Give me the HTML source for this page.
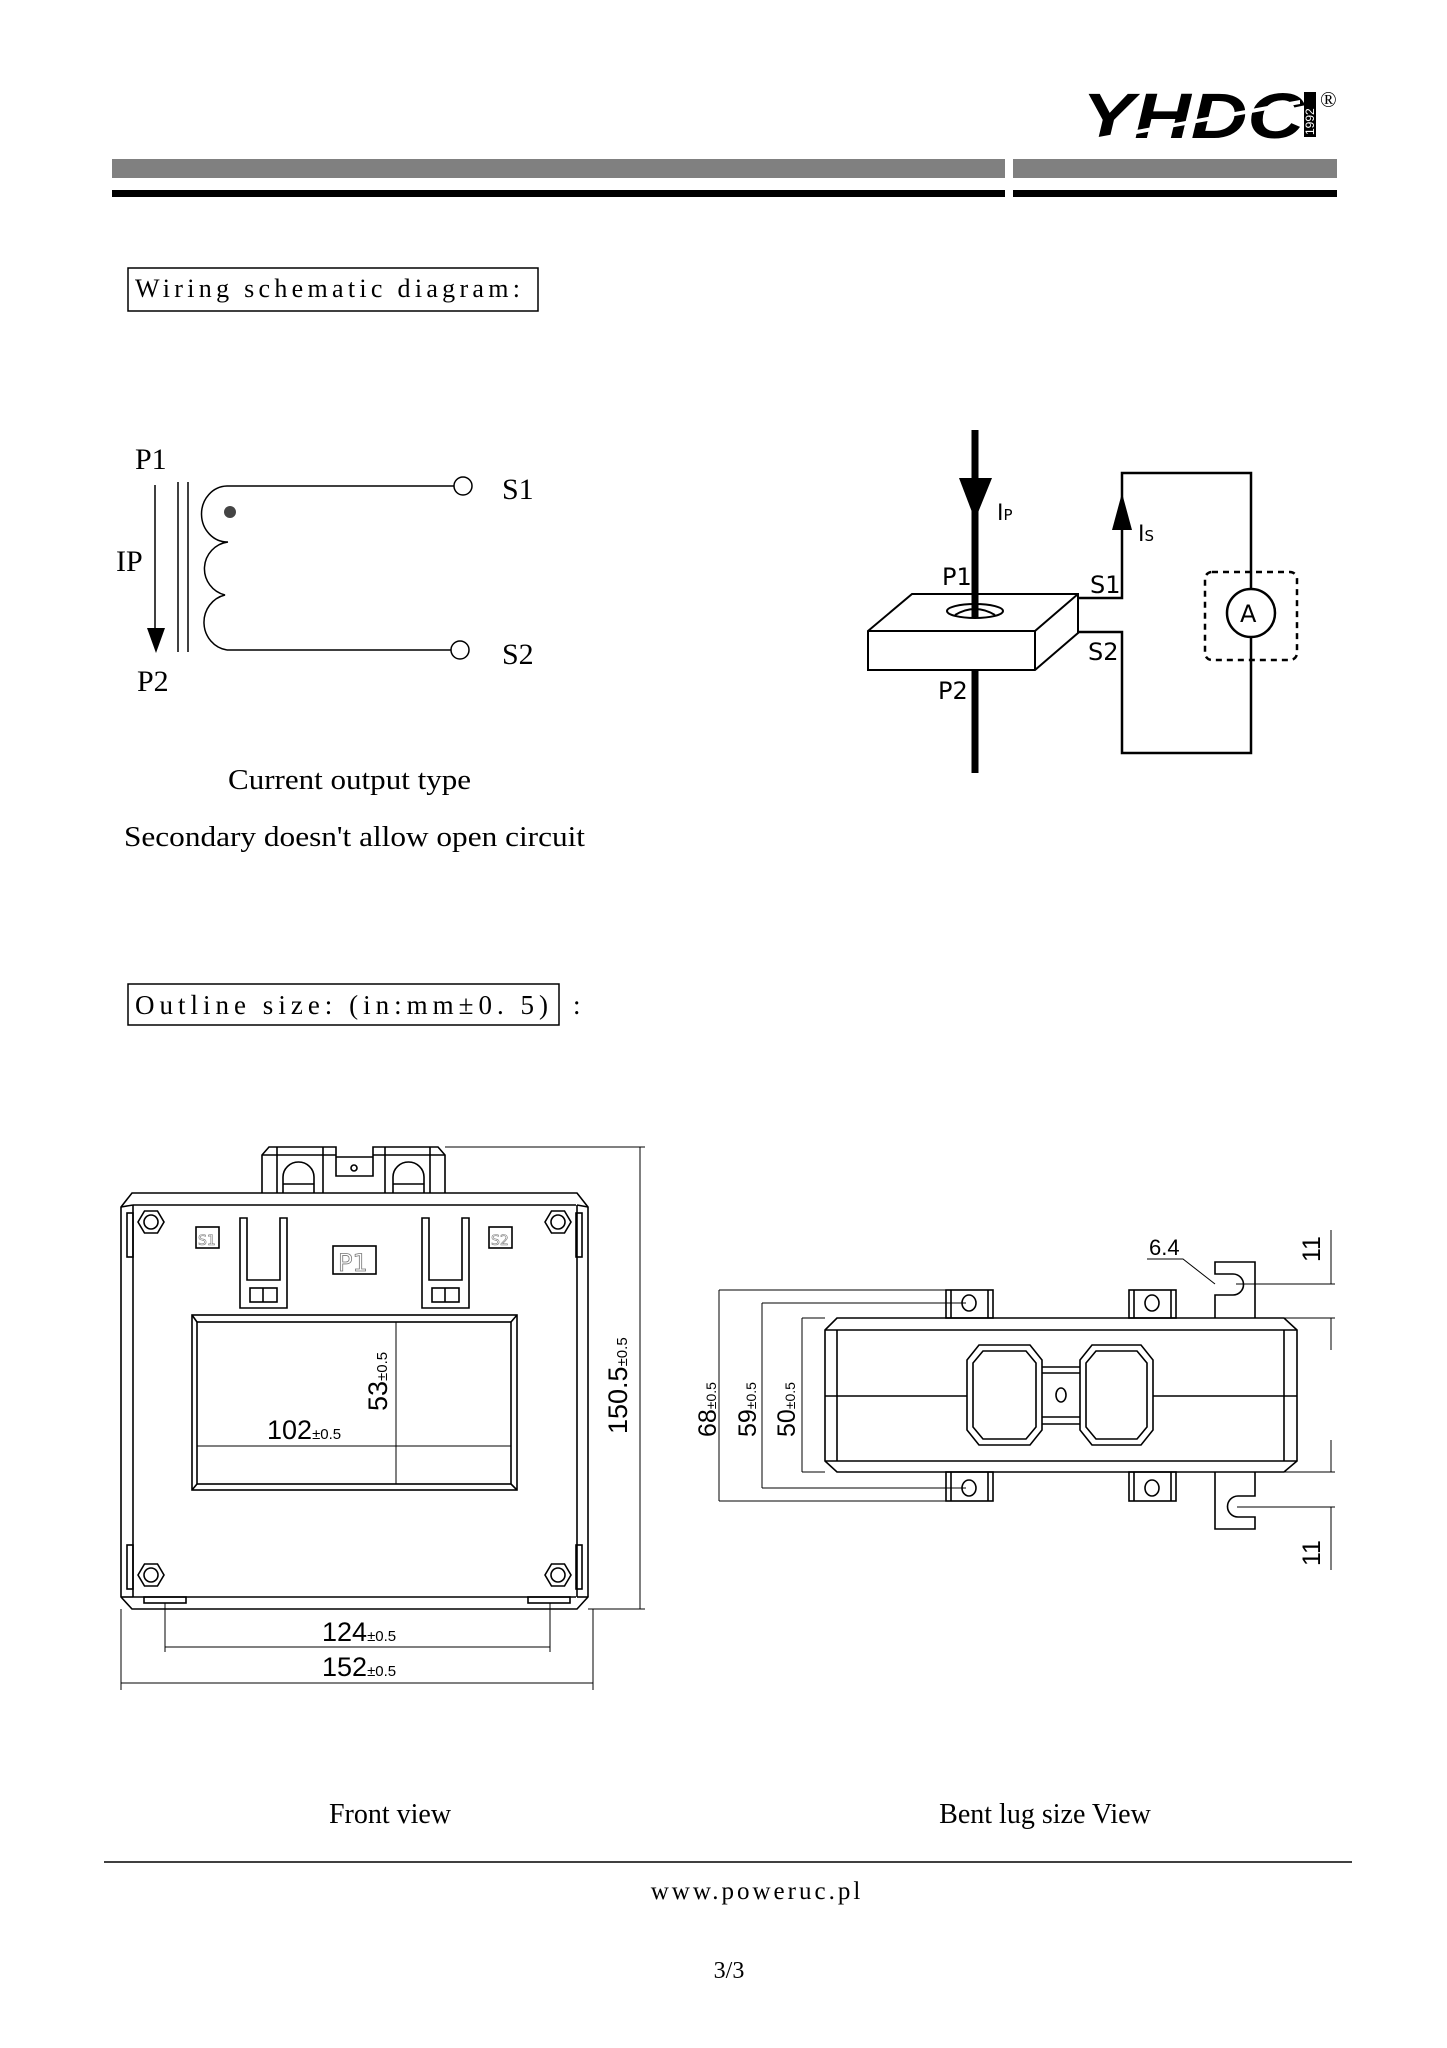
<!DOCTYPE html>
<html><head><meta charset="utf-8"><style>
html,body{margin:0;padding:0;background:#fff;}
svg{display:block;}
.s{font-family:"Liberation Serif","Noto Serif CJK SC",serif;}
.a{font-family:"DejaVu Sans","Liberation Sans",sans-serif;}
.l{font-family:"Liberation Sans",sans-serif;}
</style></head><body>
<svg width="1447" height="2048" viewBox="0 0 1447 2048" xmlns="http://www.w3.org/2000/svg">
<rect width="1447" height="2048" fill="#fff"/>
<!-- logo -->
<text x="1082" y="138" class="l" font-size="64" font-weight="bold" font-style="italic" textLength="222" lengthAdjust="spacingAndGlyphs">YHDC</text>
<polygon points="1082,140 1300,100 1300,104 1082,144" fill="#fff"/>
<rect x="1304" y="92" width="12" height="45" fill="#000"/>
<text transform="translate(1314,135) rotate(-90)" class="l" font-size="12" fill="#fff">1992</text>
<text x="1320" y="107" class="s" font-size="22">®</text>
<!-- header bars -->
<rect x="112" y="159" width="893" height="19" fill="#808080"/>
<rect x="1013" y="159" width="324" height="19" fill="#808080"/>
<rect x="112" y="190" width="893" height="7" fill="#000"/>
<rect x="1013" y="190" width="324" height="7" fill="#000"/>
<!-- wiring heading -->
<rect x="128" y="268" width="410" height="43" fill="none" stroke="#000" stroke-width="1.5"/>
<text x="135" y="297" class="s" font-size="26" textLength="385" lengthAdjust="spacing">Wiring schematic diagram:</text>
<!-- left schematic -->
<g class="s" font-size="30">
<text x="135" y="469">P1</text>
<text x="116" y="571">IP</text>
<text x="137" y="691">P2</text>
<text x="502" y="499">S1</text>
<text x="502" y="664">S2</text>
</g>
<g stroke="#000" stroke-width="1.5" fill="none">
<line x1="155" y1="485" x2="155" y2="630"/>
<line x1="178" y1="482" x2="178" y2="652"/>
<line x1="188" y1="482" x2="188" y2="652"/>
<line x1="227" y1="486" x2="454" y2="486"/>
<line x1="227" y1="650" x2="451" y2="650"/>
<path d="M227,486 A26,28 0 0 0 228,542 A27,27 0 0 0 225,595 A27,28 0 0 0 227,650"/>
<circle cx="463" cy="486" r="9"/>
<circle cx="460" cy="650" r="9"/>
</g>
<polygon points="147,628 165,628 156,653" fill="#000"/>
<circle cx="230" cy="512" r="6" fill="#444"/>
<text x="228" y="789" class="s" font-size="28" textLength="243" lengthAdjust="spacingAndGlyphs">Current output type</text>
<text x="124" y="846" class="s" font-size="29" textLength="461" lengthAdjust="spacingAndGlyphs">Secondary doesn't allow open circuit</text>
<!-- right schematic -->
<line x1="975" y1="430" x2="975" y2="773" stroke="#000" stroke-width="7"/>
<polygon points="959,478 992,478 975,520" fill="#000"/>
<g stroke="#000" stroke-width="2" fill="#fff">
<polygon points="868,631 912,594 1078,594 1078,633 1035,670 868,670"/>
<polyline points="868,631 1035,631 1078,594" fill="none"/>
<line x1="1035" y1="631" x2="1035" y2="670"/>
<ellipse cx="975" cy="611" rx="28" ry="7"/>
</g>
<path d="M955,615 Q975,603 995,615" stroke="#000" stroke-width="2" fill="none"/>
<line x1="975" y1="594" x2="975" y2="617" stroke="#000" stroke-width="7"/>
<g stroke="#000" stroke-width="2.5" fill="none">
<polyline points="1078,598 1122,598 1122,473 1251,473 1251,589"/>
<polyline points="1078,632 1122,632 1122,753 1251,753 1251,637"/>
<circle cx="1251" cy="613" r="24" fill="#fff"/>
<rect x="1205" y="572" width="92" height="88" rx="7" stroke-dasharray="6,5"/>
</g>
<polygon points="1122,493 1112,530 1132,530" fill="#000"/>
<g class="a" font-size="24">
<text x="942" y="585">P1</text>
<text x="938" y="699">P2</text>
<text x="1090" y="593">S1</text>
<text x="1088" y="660">S2</text>
<text x="1240" y="622" font-size="24">A</text>
<text x="997" y="520" font-size="22">I<tspan font-size="15">P</tspan></text>
<text x="1138" y="541" font-size="22">I<tspan font-size="15">S</tspan></text>
</g>
<!-- outline heading -->
<rect x="128" y="984" width="431" height="41" fill="none" stroke="#000" stroke-width="1.5"/>
<text x="135" y="1014" class="s" font-size="27" textLength="413" lengthAdjust="spacing">Outline size:  (in:mm±0. 5)</text>
<text x="573" y="1014" class="s" font-size="27">:</text>
<!-- front view -->
<g stroke="#000" stroke-width="1.6" fill="none">
<path d="M262,1193 L262,1155 L269,1147 L336,1147 L336,1176 L373,1176 L373,1147 L438,1147 L445,1155 L445,1193"/>
<line x1="262" y1="1155" x2="336" y2="1155"/><line x1="373" y1="1155" x2="445" y2="1155"/>
<line x1="277" y1="1147" x2="277" y2="1193"/><line x1="323" y1="1147" x2="323" y2="1193"/>
<line x1="385" y1="1147" x2="385" y2="1193"/><line x1="430" y1="1147" x2="430" y2="1193"/>
<line x1="336" y1="1157" x2="373" y2="1157"/>
<path d="M283,1193 L283,1177 A15.5,15 0 0 1 314,1177 L314,1193"/><line x1="283" y1="1184" x2="314" y2="1184"/>
<path d="M393,1193 L393,1177 A15.5,15 0 0 1 424,1177 L424,1193"/><line x1="393" y1="1184" x2="424" y2="1184"/>
<circle cx="354" cy="1168" r="3"/>
<path d="M132,1193 L577,1193 L588,1207 L588,1597 L577,1609 L132,1609 L121,1597 L121,1207 Z"/>
<line x1="133" y1="1205" x2="576" y2="1205"/>
<line x1="133" y1="1597" x2="576" y2="1597"/>
<line x1="133" y1="1205" x2="133" y2="1597"/>
<line x1="577" y1="1205" x2="577" y2="1597"/>
<line x1="121" y1="1207" x2="133" y2="1205"/><line x1="588" y1="1207" x2="577" y2="1205"/>
<line x1="121" y1="1597" x2="133" y2="1597"/><line x1="588" y1="1597" x2="577" y2="1597"/>
<rect x="127" y="1213" width="6" height="44"/><rect x="576" y="1213" width="6" height="44"/>
<rect x="127" y="1545" width="6" height="44"/><rect x="576" y="1545" width="6" height="44"/>
<rect x="144" y="1597" width="42" height="6"/><rect x="528" y="1597" width="42" height="6"/>
<polygon points="138,1222 144.5,1211 157.5,1211 164,1222 157.5,1233 144.5,1233"/><circle cx="151" cy="1222" r="7"/>
<polygon points="545,1222 551.5,1211 564.5,1211 571,1222 564.5,1233 551.5,1233"/><circle cx="558" cy="1222" r="7"/>
<polygon points="138,1575 144.5,1564 157.5,1564 164,1575 157.5,1586 144.5,1586"/><circle cx="151" cy="1575" r="7"/>
<polygon points="545,1575 551.5,1564 564.5,1564 571,1575 564.5,1586 551.5,1586"/><circle cx="558" cy="1575" r="7"/>
<path d="M240,1218 L247,1218 L247,1280 L280,1280 L280,1218 L287,1218 L287,1308 L240,1308 Z"/>
<rect x="250" y="1288" width="27" height="14"/><line x1="263" y1="1288" x2="263" y2="1302"/>
<path d="M422,1218 L429,1218 L429,1280 L462,1280 L462,1218 L469,1218 L469,1308 L422,1308 Z"/>
<rect x="432" y="1288" width="27" height="14"/><line x1="445" y1="1288" x2="445" y2="1302"/>
<rect x="196" y="1227" width="23" height="21"/><rect x="489" y="1227" width="23" height="21"/>
<rect x="333" y="1246" width="43" height="28"/>
<rect x="192" y="1315" width="325" height="175"/>
<rect x="197" y="1322" width="314" height="162"/>
<line x1="192" y1="1315" x2="197" y2="1322"/><line x1="517" y1="1315" x2="511" y2="1322"/>
<line x1="192" y1="1490" x2="197" y2="1484"/><line x1="517" y1="1490" x2="511" y2="1484"/>
</g>
<g fill="none" stroke="#555" stroke-width="1.1" class="a" font-size="14">
<text x="198" y="1245" stroke="#777" stroke-width="0.6" fill="#fff">S1</text>
<text x="491" y="1245" stroke="#777" stroke-width="0.6" fill="#fff">S2</text>
<text x="338" y="1271" font-size="24" stroke="#777" stroke-width="0.8" fill="#fff">P1</text>
</g>
<g stroke="#000" stroke-width="1" fill="none">
<line x1="445" y1="1147" x2="645" y2="1147"/>
<line x1="588" y1="1609" x2="645" y2="1609"/>
<line x1="640" y1="1147" x2="640" y2="1609"/>
<line x1="396" y1="1322" x2="396" y2="1484"/>
<line x1="197" y1="1446" x2="511" y2="1446"/>
<line x1="165" y1="1603" x2="165" y2="1652"/><line x1="550" y1="1603" x2="550" y2="1652"/>
<line x1="165" y1="1647" x2="550" y2="1647"/>
<line x1="121" y1="1609" x2="121" y2="1690"/><line x1="593" y1="1609" x2="593" y2="1690"/>
<line x1="121" y1="1683" x2="593" y2="1683"/>
</g>
<g class="l" fill="#000">
<text x="267" y="1439" font-size="27">102<tspan font-size="15">±0.5</tspan></text>
<text x="322" y="1641" font-size="27">124<tspan font-size="15">±0.5</tspan></text>
<text x="322" y="1676" font-size="27">152<tspan font-size="15">±0.5</tspan></text>
<text transform="translate(387,1411) rotate(-90)" font-size="27">53<tspan font-size="15">±0.5</tspan></text>
<text transform="translate(627,1434) rotate(-90)" font-size="27">150.5<tspan font-size="15">±0.5</tspan></text>
</g>
<!-- bent lug view -->
<g stroke="#000" stroke-width="1.6" fill="none">
<path d="M837,1318 L1284,1318 L1297,1330 L1297,1461 L1284,1472 L837,1472 L825,1461 L825,1330 Z"/>
<line x1="825" y1="1330" x2="1297" y2="1330"/><line x1="825" y1="1461" x2="1297" y2="1461"/>
<line x1="837" y1="1330" x2="837" y2="1461"/><line x1="1284" y1="1330" x2="1284" y2="1461"/>
<line x1="825" y1="1396" x2="967" y2="1396"/><line x1="1153" y1="1396" x2="1297" y2="1396"/>
<polygon points="979,1345 1030,1345 1042,1360 1042,1430 1030,1445 979,1445 967,1430 967,1360"/>
<polygon points="983,1351 1026,1351 1036,1363 1036,1427 1026,1439 983,1439 973,1427 973,1363"/>
<polygon points="1092,1345 1141,1345 1153,1360 1153,1430 1141,1445 1092,1445 1080,1430 1080,1360"/>
<polygon points="1096,1351 1137,1351 1147,1363 1147,1427 1137,1439 1096,1439 1086,1427 1086,1363"/>
<line x1="1042" y1="1367" x2="1080" y2="1367"/><line x1="1042" y1="1373" x2="1080" y2="1373"/>
<line x1="1042" y1="1417" x2="1080" y2="1417"/><line x1="1042" y1="1424" x2="1080" y2="1424"/>
<ellipse cx="1061" cy="1395" rx="5" ry="7"/>
<rect x="946" y="1290" width="47" height="28"/><line x1="951" y1="1290" x2="951" y2="1318"/><line x1="988" y1="1290" x2="988" y2="1318"/><ellipse cx="969" cy="1303" rx="7" ry="8"/>
<rect x="1129" y="1290" width="47" height="28"/><line x1="1134" y1="1290" x2="1134" y2="1318"/><line x1="1171" y1="1290" x2="1171" y2="1318"/><ellipse cx="1152" cy="1303" rx="7" ry="8"/>
<rect x="946" y="1472" width="47" height="29"/><line x1="951" y1="1472" x2="951" y2="1501"/><line x1="988" y1="1472" x2="988" y2="1501"/><ellipse cx="969" cy="1488" rx="7" ry="8"/>
<rect x="1129" y="1472" width="47" height="29"/><line x1="1134" y1="1472" x2="1134" y2="1501"/><line x1="1171" y1="1472" x2="1171" y2="1501"/><ellipse cx="1152" cy="1488" rx="7" ry="8"/>
<path d="M1215,1318 L1215,1295 L1233,1295 A10.5,10.5 0 0 0 1233,1274 L1215,1274 L1215,1262 L1255,1262 L1255,1318"/>
<path d="M1215,1472 L1215,1529 L1255,1529 L1255,1517 L1238,1517 A10.5,10.5 0 0 1 1238,1496 L1255,1496 L1255,1472"/>
</g>
<g stroke="#000" stroke-width="1" fill="none">
<line x1="719" y1="1290" x2="946" y2="1290"/><line x1="719" y1="1501" x2="946" y2="1501"/>
<line x1="719" y1="1290" x2="719" y2="1501"/>
<line x1="762" y1="1303" x2="966" y2="1303"/><line x1="762" y1="1488" x2="966" y2="1488"/>
<line x1="762" y1="1303" x2="762" y2="1488"/>
<line x1="802" y1="1318" x2="825" y2="1318"/><line x1="802" y1="1472" x2="825" y2="1472"/>
<line x1="802" y1="1318" x2="802" y2="1472"/>
<line x1="1331" y1="1230" x2="1331" y2="1284"/><line x1="1331" y1="1318" x2="1331" y2="1350"/>
<line x1="1331" y1="1440" x2="1331" y2="1472"/><line x1="1331" y1="1507" x2="1331" y2="1570"/>
<line x1="1236" y1="1284" x2="1335" y2="1284"/><line x1="1255" y1="1318" x2="1335" y2="1318"/>
<line x1="1255" y1="1472" x2="1335" y2="1472"/><line x1="1237" y1="1507" x2="1335" y2="1507"/>
<polyline points="1147,1259 1183,1259 1215,1284"/>
</g>
<g class="l" fill="#000">
<text x="1149" y="1255" font-size="22">6.4</text>
<text transform="translate(1320,1262) rotate(-90)" font-size="25">11</text>
<text transform="translate(1320,1566) rotate(-90)" font-size="25">11</text>
<text transform="translate(716,1437) rotate(-90)" font-size="25">68<tspan font-size="14">±0.5</tspan></text>
<text transform="translate(756,1437) rotate(-90)" font-size="25">59<tspan font-size="14">±0.5</tspan></text>
<text transform="translate(795,1437) rotate(-90)" font-size="25">50<tspan font-size="14">±0.5</tspan></text>
</g>
<!-- footer -->
<text x="390" y="1823" class="s" font-size="28" text-anchor="middle">Front view</text>
<text x="1045" y="1823" class="s" font-size="28" text-anchor="middle">Bent lug size View</text>
<line x1="104" y1="1862" x2="1352" y2="1862" stroke="#000" stroke-width="1.5"/>
<text x="757" y="1899" class="s" font-size="25" text-anchor="middle" letter-spacing="3">www.poweruc.pl</text>
<text x="729" y="1978" class="s" font-size="24" text-anchor="middle">3/3</text>
</svg>
</body></html>
